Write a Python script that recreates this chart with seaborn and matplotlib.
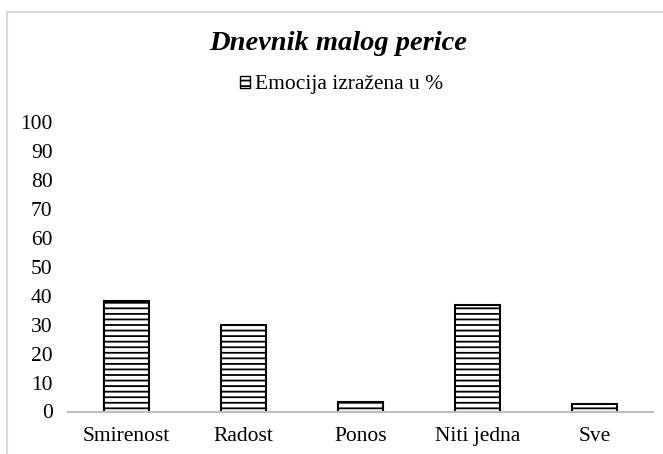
import matplotlib
matplotlib.use("Agg")
import matplotlib.pyplot as plt
import seaborn as sns
import pandas as pd
from matplotlib.patches import Patch, Rectangle

categories = ["Smirenost", "Radost", "Ponos", "Niti jedna", "Sve"]
values = [38, 30, 3.2, 36.7, 2.5]
series_label = "Emocija izražena u %"
title = "Dnevnik malog perice"
yticks = [0, 10, 20, 30, 40, 50, 60, 70, 80, 90, 100]

sns.set_theme(style="white")
plt.rcParams["font.family"] = ["Liberation Serif", "DejaVu Serif"]
plt.rcParams["hatch.linewidth"] = 1.3
plt.rcParams["hatch.color"] = "black"
plt.rcParams["text.color"] = "black"

fig = plt.figure(figsize=(6.63, 4.54), dpi=100)
ax = fig.add_axes([68 / 663, 1 - 411.5 / 454, 585 / 663, (411.5 - 122) / 454])

df = pd.DataFrame({"cat": categories, "val": values})
sns.barplot(data=df, x="cat", y="val", ax=ax, color="white", width=0.39,
            edgecolor="black", linewidth=1.5, hatch="---", saturation=1)

ax.set_ylim(0, 100)
ax.set_xlim(-0.5, 4.5)
ax.set_yticks(yticks)
ax.set_yticklabels([str(t) for t in yticks])
ax.set_xlabel("")
ax.set_ylabel("")
ax.tick_params(axis="y", length=0, pad=11, labelsize=15.5, colors="black")
ax.tick_params(axis="x", length=0, pad=11, labelsize=15.5, colors="black")
for s in ["top", "right", "left"]:
    ax.spines[s].set_visible(False)
ax.spines["bottom"].set_color("#bfbfbf")
ax.spines["bottom"].set_linewidth(1.5)
ax.grid(False)

fig.text(338 / 663, 1 - 44 / 454, title, ha="center", va="center",
         fontsize=20.5, fontweight="bold", fontstyle="italic", color="black")

handle = Patch(facecolor="white", edgecolor="black", hatch="---", linewidth=1.0)
fig.legend([handle], [series_label], loc="center", bbox_to_anchor=(342 / 663, 1 - 85 / 454),
           frameon=False, fontsize=15.5, handlelength=0.45, handleheight=0.45,
           handletextpad=0.25, borderpad=0, labelcolor="black")

fig.patches.append(Rectangle((6.5 / 663, -0.1), 2, 1.1 - 12.5 / 454, transform=fig.transFigure,
                             fill=False, edgecolor="#d9d9d9", linewidth=1.5))

fig.savefig("out.png", dpi=100, facecolor="white")
